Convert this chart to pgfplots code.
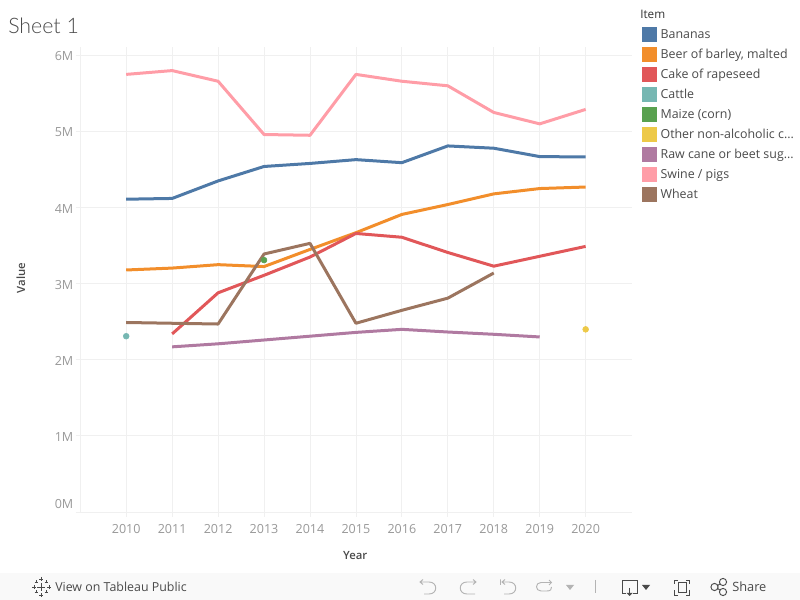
\documentclass[border=0pt]{standalone}
\usepackage{fontspec}
\setmainfont{Open Sans}
\newfontfamily\titlefont{Lato Light}
\newfontfamily\labelfont{Open Sans Semibold}
\usepackage{pgfplots}
\pgfplotsset{compat=1.18}

\definecolor{cBananas}{HTML}{4E79A7}
\definecolor{cBeer}{HTML}{F28E2B}
\definecolor{cCake}{HTML}{E15759}
\definecolor{cCattle}{HTML}{76B7B2}
\definecolor{cMaize}{HTML}{59A14F}
\definecolor{cOther}{HTML}{EDC948}
\definecolor{cRaw}{HTML}{B07AA1}
\definecolor{cSwine}{HTML}{FF9DA7}
\definecolor{cWheat}{HTML}{9C755F}
\definecolor{gridc}{HTML}{F0F0F0}
\definecolor{tickc}{HTML}{989898}
\definecolor{labelc}{HTML}{4A4A4A}
\definecolor{iconc}{HTML}{B4B4B4}
\definecolor{barc}{HTML}{F9F9F9}

\pgfplotsset{
  trend/.style={color=#1, line width=2.25pt, line join=round, no markers},
  dot/.style={color=#1, only marks, mark=*, mark size=2.2pt, mark options={draw=none, fill=#1}},
}

\begin{document}
\begin{tikzpicture}
\useasboundingbox (0,0) rectangle (600pt,450pt);

% toolbar strip, in image pixels
\begin{scope}[x=0.75pt,y=-0.75pt,yshift=450pt]
  \fill[barc] (0,573) rectangle (800,600);
  \node[anchor=west,inner sep=0pt,text=labelc] at (8,26) {\titlefont\fontsize{16}{16}\selectfont Sheet 1};
  \node[anchor=west,inner sep=0pt,text=labelc] at (55,587) {\fontsize{9.3}{9.3}\selectfont View on Tableau Public};
  \node[anchor=west,inner sep=0pt,text=labelc] at (732,587) {\fontsize{9.6}{9.6}\selectfont Share};
  \node[anchor=west,inner sep=0pt,text=black!80] at (640,14) {\fontsize{8.8}{8.8}\selectfont Item};
  % logo
  \foreach \a/\b/\s in {41/587/4,41/579/2,41/595/2,34/587/2,49/587/2,36/582/1.5,46/582/1.5,36/592/1.5,46/592/1.5}
    \draw[labelc,line width=0.6pt] (\a-\s,\b) -- (\a+\s,\b) (\a,\b-\s) -- (\a,\b+\s);
  % undo, redo, back, forward
  \draw[iconc,line width=0.7pt] (423,579.5) -- (420,582) -- (423,584.5) (420,582) -- (429,582) .. controls (438,582) and (438,594) .. (429,594) -- (424,594);
  \draw[iconc,line width=0.7pt] (473,579.5) -- (476,582) -- (473,584.5) (476,582) -- (467,582) .. controls (458,582) and (458,594) .. (467,594) -- (475,594);
  \draw[iconc,line width=0.7pt] (500.5,579.5) -- (500.5,585) (505,579.5) -- (502,582) -- (505,584.5) (502,582) -- (509,582) .. controls (518,582) and (518,594) .. (509,594) -- (504,594);
  \draw[iconc,line width=0.7pt] (549,580) -- (551.5,582.5) -- (549,585) (551,582.5) -- (541,582.5) .. controls (535,582.5) and (535,591) .. (541,591) -- (547,591) .. controls (551,591) and (551.5,589) .. (551.5,587);
  \fill[iconc] (566,585) -- (574,585) -- (570,590) -- cycle;
  \draw[iconc,line width=0.7pt] (595.5,580) -- (595.5,593);
  % download, fullscreen, share
  \draw[labelc,line width=0.7pt] (626,593) -- (622,593) -- (622,580) -- (637,580) -- (637,593) -- (633,593) (629.5,588) -- (629.5,595);
  \fill[labelc] (626.5,593) -- (632.5,593) -- (629.5,596) -- cycle;
  \fill[labelc] (642,585) -- (650,585) -- (646,590) -- cycle;
  \draw[labelc,line width=0.7pt] (678,582) rectangle (686,592);
  \draw[labelc,line width=0.7pt] (674,584) -- (674,580) -- (678,580) (686,580) -- (689,580) -- (689,584) (689,590) -- (689,595) -- (686,595) (678,595) -- (674,595) -- (674,590);
  \draw[labelc,line width=0.7pt] (714.5,587) circle (2.7pt) (723,582) circle (2.7pt) (723,592) circle (2.7pt) (717,586) -- (720.5,583.5) (717,588) -- (720.5,590.5);
\end{scope}

\begin{axis}[
  at={(60.2pt,66pt)}, anchor=south west,
  scale only axis, width=413.5pt, height=348.75pt,
  xmin=2009, xmax=2021, ymin=0, ymax=6.11,
  axis x line=bottom, axis y line=left,
  axis line style={draw=gridc, -},
  xtick={2010,...,2020},
  xticklabels={2010,2011,2012,2013,2014,2015,2016,2017,2018,2019,2020},
  ytick={1,2,3,4,5,6},
  yticklabels={1M,2M,3M,4M,5M,6M},
  extra y ticks={0},
  extra y tick labels={0M},
  extra y tick style={yticklabel style={yshift=6.75pt}},
  grid=major,
  major grid style={draw=gridc, line width=0.6pt},
  tick style={draw=gridc, line width=0.6pt},
  tick align=outside,
  major tick length=3.5pt,
  tick label style={text=tickc, font=\fontsize{9.4}{9.4}\selectfont},
  xticklabel style={yshift=-2.2pt},
  yticklabel style={yshift=-0.75pt, xshift=1.8pt},
  xlabel={Year}, ylabel={Value},
  label style={text=labelc, font=\labelfont\fontsize{8.5}{8.5}\selectfont},
  xlabel style={at={(axis description cs:0.4988,-0.0925)}, anchor=center},
  ylabel style={at={(axis description cs:-0.1077,0.503)}, anchor=center},
  legend style={at={(1.0197,1.0493)}, anchor=north west, draw=none, fill=none,
    row sep=0pt, inner sep=0pt, outer sep=0pt,
    font=\fontsize{9.3}{9.3}\selectfont, text=labelc,
    nodes={inner sep=0pt, text height=11pt, text depth=4pt, anchor=west}},
  legend cell align=left,
  legend image code/.code={\fill[#1, line width=0pt] (0pt,-5.25pt) rectangle (10.5pt,5.25pt);
    \path[draw=none,fill=none] (0pt,0pt) -- (13.6pt,0pt);},
  clip=false,
]
\addplot[trend=cBananas] coordinates {
  (2010,4.11)(2011,4.12)(2012,4.35)(2013,4.54)(2014,4.58)(2015,4.63)
  (2016,4.59)(2017,4.81)(2018,4.78)(2019,4.67)(2020,4.665)};
\addlegendentry{Bananas}
\addplot[trend=cBeer] coordinates {
  (2010,3.18)(2011,3.205)(2012,3.25)(2013,3.225)(2014,3.45)(2015,3.67)
  (2016,3.91)(2017,4.04)(2018,4.18)(2019,4.25)(2020,4.27)};
\addlegendentry{Beer of barley, malted}
\addplot[trend=cCake] coordinates {
  (2011,2.34)(2012,2.88)(2013,3.11)(2014,3.35)(2015,3.66)
  (2016,3.61)(2017,3.41)(2018,3.23)(2019,3.36)(2020,3.49)};
\addlegendentry{Cake of rapeseed}
\addplot[dot=cCattle] coordinates {(2010,2.31)};
\addlegendentry{Cattle}
\addplot[dot=cMaize] coordinates {(2013,3.31)};
\addlegendentry{Maize (corn)}
\addplot[dot=cOther] coordinates {(2020,2.40)};
\addlegendentry{Other non-alcoholic c...}
\addplot[trend=cRaw] coordinates {
  (2011,2.17)(2012,2.21)(2013,2.26)(2014,2.31)(2015,2.36)
  (2016,2.40)(2017,2.365)(2018,2.335)(2019,2.30)};
\addlegendentry{Raw cane or beet sug...}
\addplot[trend=cSwine] coordinates {
  (2010,5.75)(2011,5.80)(2012,5.66)(2013,4.96)(2014,4.95)(2015,5.75)
  (2016,5.66)(2017,5.60)(2018,5.25)(2019,5.10)(2020,5.29)};
\addlegendentry{Swine / pigs}
\addplot[trend=cWheat] coordinates {
  (2010,2.49)(2011,2.48)(2012,2.47)(2013,3.39)(2014,3.53)(2015,2.48)
  (2016,2.65)(2017,2.81)(2018,3.14)};
\addlegendentry{Wheat}
\end{axis}
\end{tikzpicture}
\end{document}
